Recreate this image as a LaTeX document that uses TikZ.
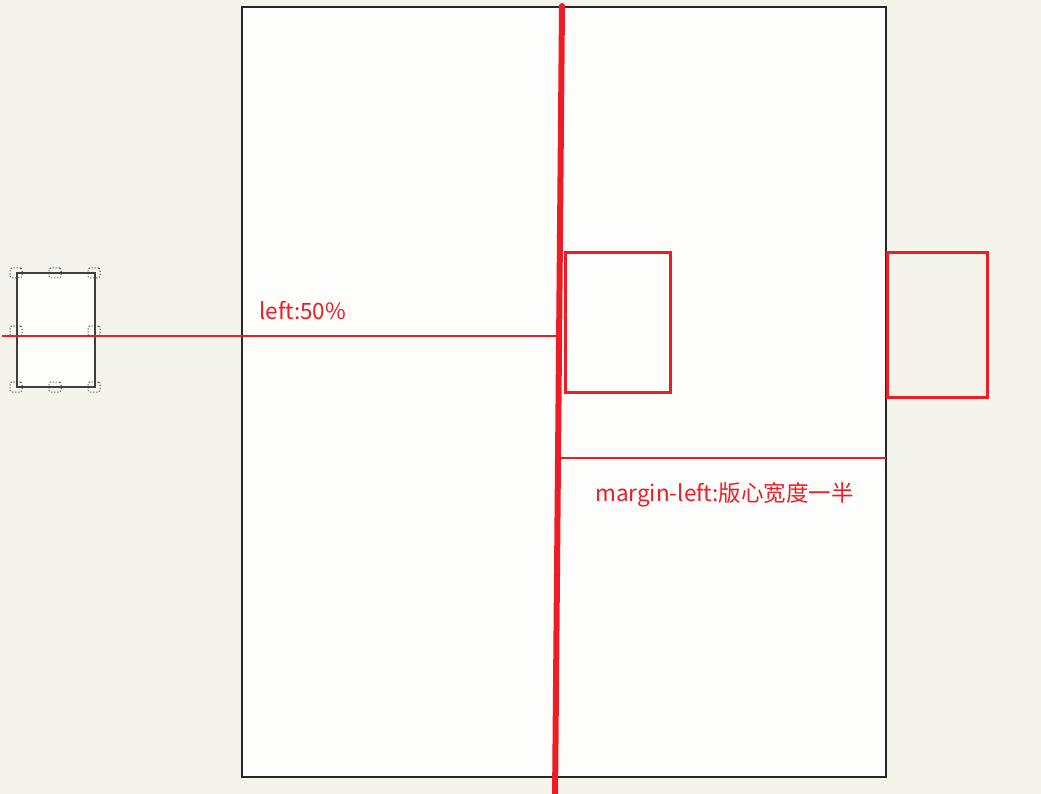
\documentclass[tikz,border=0pt]{standalone}
\usepackage{fontspec}
\setmainfont{Noto Sans CJK SC}
\definecolor{bg}{HTML}{F5F4EC}
\definecolor{pagefill}{HTML}{FDFEFB}
\definecolor{redline}{HTML}{EE1C25}
\begin{document}
\begin{tikzpicture}[x=1pt,y=-1pt,
  redbox/.style={draw=redline,line width=3pt,inner sep=0pt},
  handle/.style={draw=black!80,dotted,line width=1pt,minimum width=12pt,minimum height=10pt,inner sep=0pt,rounded corners=1.5pt},
  lbl/.style={text=redline,font=\fontsize{22.5}{26}\selectfont,inner sep=0pt,anchor=west}]
\fill[bg] (0,0) rectangle (1041,794);
\useasboundingbox (0,0) rectangle (1041,794);
% page
\draw[black!85,line width=1.5pt,fill=pagefill] (242,7) rectangle (886,777);
% small element with handles
\draw[black!75,line width=1.5pt,fill=pagefill] (17,273) rectangle (95,387);
\foreach \n/\x/\y in {a/16/273,b/55/273,c/94/273,d/16/331,e/94/331,f/16/387,g/55/387,h/94/387}
  \node[handle] (h\n) at (\x,\y) {};
% red boxes
\node[redbox,minimum width=105pt,minimum height=139pt] (box1) at (617.5,322.5) {};
\node[redbox,minimum width=100pt,minimum height=144pt] (box2) at (937,325) {};
% thin horizontal lines
\coordinate (l1s) at (2,336);
\coordinate (l1e) at (557,336);
\draw[redline,line width=1.5pt] (l1s) -- (l1e);
\coordinate (l2s) at (560,458);
\coordinate (l2e) at (886,458);
\draw[redline,line width=2pt] (l2s) -- (l2e);
% thick center line
\coordinate (ct) at (562,6);
\coordinate (cb) at (555,800);
\draw[redline,line width=6pt,line cap=round] (ct) -- (cb);
% labels
\node[lbl] (t1) at (259,311) {left:50\%};
\node[lbl] (t2) at (595,495) {margin-left:版心宽度一半};
\end{tikzpicture}
\end{document}
